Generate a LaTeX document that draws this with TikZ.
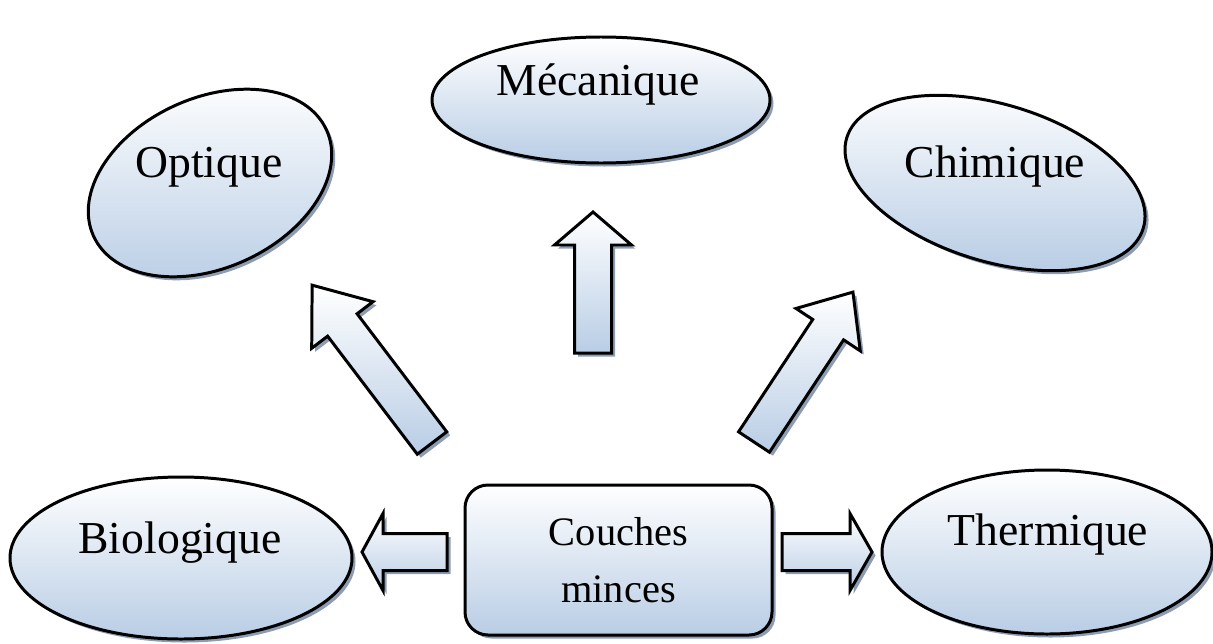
\documentclass[tikz,border=0pt]{standalone}
\usepackage{fontspec}
\setmainfont{Liberation Serif}
\usetikzlibrary{calc,shapes.geometric,shadows}
\definecolor{bleu}{HTML}{B9CDE5}
\definecolor{ombre}{HTML}{8E9CB2}

\newcommand{\demitige}{0.37cm}
\newcommand{\demitete}{0.77cm}
% block arrow from #1 to #2, head length #3
\newcommand{\fleche}[3]{%
  \path[fleche] let \p1=($(#2)-(#1)$), \n1={atan2(\y1,\x1)}, \n2={veclen(\x1,\y1)} in
    [shift={(#1)},rotate=\n1]
    (0,-\demitige) -- ({\n2-#3},-\demitige) -- ({\n2-#3},-\demitete) -- (\n2,0)
    -- ({\n2-#3},\demitete) -- ({\n2-#3},\demitige) -- (0,\demitige) -- cycle;}

\tikzset{
  ombrage/.style={drop shadow={shadow xshift=0.07cm,shadow yshift=-0.07cm,fill=ombre,opacity=1}},
  domaine/.style={ellipse,draw=black,line width=1.7pt,top color=white,bottom color=bleu,
    inner sep=0pt,ombrage},
  etiquette/.style={anchor=base,font=\fontsize{26}{31}\selectfont},
  fleche/.style={draw=black,line width=1.7pt,line join=miter,top color=white,bottom color=bleu,ombrage},
}

\begin{document}
\begin{tikzpicture}
  \useasboundingbox (0,0) rectangle (24.26,12.86);

  % Domains
  \node[domaine,minimum width=6.76cm,minimum height=2.52cm] (mec) at (12.02,10.86) {};
  \node[domaine,minimum width=5.12cm,minimum height=3.40cm,rotate=24.5] (opt) at (4.20,9.20) {};
  \node[domaine,minimum width=6.20cm,minimum height=3.14cm,rotate=-17] (chi) at (19.90,9.20) {};
  \node[domaine,minimum width=6.84cm,minimum height=3.24cm] (bio) at (3.62,1.70) {};
  \node[domaine,minimum width=6.60cm,minimum height=3.28cm] (the) at (20.94,1.82) {};

  \node[etiquette] (t-mec) at (11.96,10.96) {Mécanique};
  \node[etiquette] (t-opt) at (4.18,9.32) {Optique};
  \node[etiquette] (t-chi) at (19.90,9.32) {Chimique};
  \node[etiquette] (t-bio) at (3.60,1.80) {Biologique};
  \node[etiquette] (t-the) at (20.96,1.96) {Thermique};

  % Central box
  \node[draw=black,line width=1.7pt,rounded corners=0.46cm,top color=white,bottom color=bleu,
    ombrage,minimum width=6.14cm,minimum height=3.0cm,align=center,
    font=\fontsize{23}{32.4}\selectfont] (cm) at (12.37,1.66) {Couches\\minces};

  % Block arrows
  \coordinate (fm-base) at (11.86,5.80);  \coordinate (fm-pointe) at (11.86,8.62);
  \coordinate (fo-base) at (8.64,4.00);   \coordinate (fo-pointe) at (6.24,7.16);
  \coordinate (fc-base) at (15.08,4.02);  \coordinate (fc-pointe) at (17.06,7.02);
  \coordinate (fb-base) at (8.94,1.82);   \coordinate (fb-pointe) at (7.24,1.82);
  \coordinate (ft-base) at (15.64,1.82);  \coordinate (ft-pointe) at (17.44,1.82);
  \fleche{fm-base}{fm-pointe}{0.66cm}
  \fleche{fo-base}{fo-pointe}{1.0cm}
  \fleche{fc-base}{fc-pointe}{0.9cm}
  \fleche{fb-base}{fb-pointe}{0.42cm}
  \fleche{ft-base}{ft-pointe}{0.44cm}
\end{tikzpicture}
\end{document}
